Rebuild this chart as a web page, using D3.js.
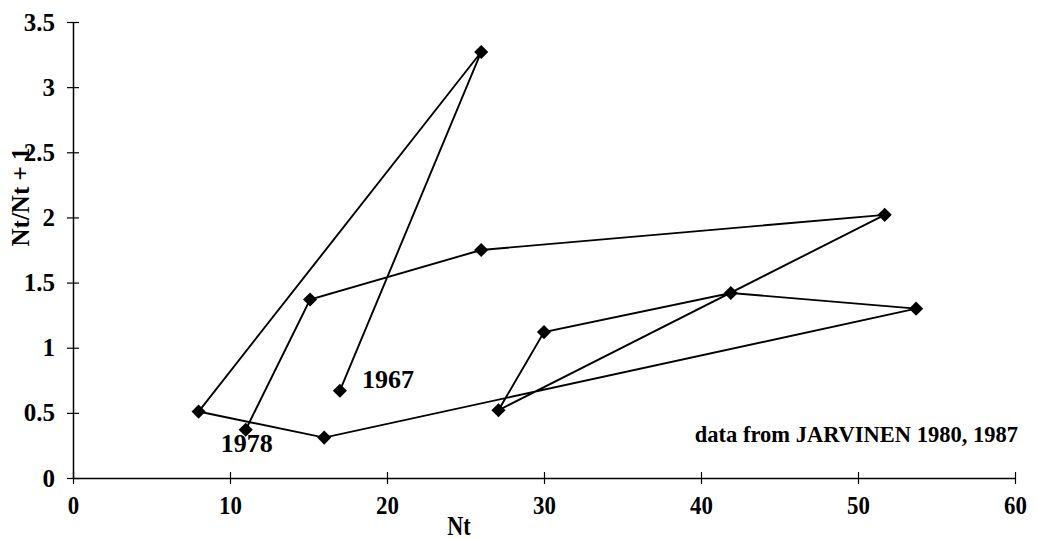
<!DOCTYPE html>
<html><head><meta charset="utf-8">
<script src="https://cdn.jsdelivr.net/npm/d3@7"></script>
<style>body{margin:0;background:#fff}svg{display:block}text{font-family:"Liberation Serif","Times New Roman",serif;font-weight:bold;fill:#000}</style>
</head><body><svg id="c" width="1038" height="539"></svg>
<script>
const years = [1967,1968,1969,1970,1971,1972,1973,1974,1975,1976,1977,1978];
const nt = [17, 26, 8, 16, 53.7, 41.9, 30, 27.1, 51.7, 26, 15.1, 11];
const ratio = [0.67, 3.27, 0.51, 0.31, 1.30, 1.42, 1.12, 0.52, 2.02, 1.75, 1.37, 0.37];
const xTicks = [0,10,20,30,40,50,60];
const yTicks = [0,0.5,1,1.5,2,2.5,3,3.5];
const xTitle = "Nt", yTitle = "Nt/Nt + 1";
const note = "data from JARVINEN 1980, 1987";

const svg = d3.select("#c");
const x = d3.scaleLinear().domain([0,60]).range([73,1015]);
const y = d3.scaleLinear().domain([0,3.5]).range([478,22]);

// axes
const xa = svg.append("g").attr("transform",`translate(0,${y(0)})`)
  .call(d3.axisBottom(x).tickValues(xTicks).tickSizeInner(6).tickSizeOuter(0).tickFormat(d3.format("d")));
xa.selectAll(".tick line").attr("y1",-6).attr("y2",6);
xa.selectAll("text").attr("y",36).attr("dy",null).attr("transform","scale(0.88,1)")
  .style("font-size","26px").attr("font-family",null);
const ya = svg.append("g").attr("transform",`translate(${x(0)},0)`)
  .call(d3.axisLeft(y).tickValues(yTicks).tickSizeInner(6).tickSizeOuter(0).tickFormat(d=>String(d)));
ya.selectAll(".tick line").attr("x1",-6).attr("x2",6);
ya.selectAll("text").attr("x",-18).style("font-size","25px").attr("font-family",null);
svg.selectAll(".domain").attr("stroke","#000").attr("stroke-width",1.5);
svg.selectAll(".tick line").attr("stroke","#000").attr("stroke-width",1.2);

// line
const pts = nt.map((v,i)=>[v,ratio[i]]);
svg.append("path").datum(pts)
  .attr("d", d3.line().x(d=>x(d[0])).y(d=>y(d[1])))
  .attr("fill","none").attr("stroke","#000").attr("stroke-width",1.9);
svg.append("g").selectAll("path").data(pts).join("path")
  .attr("transform", d=>`translate(${x(d[0])},${y(d[1])}) rotate(45)`)
  .attr("d", d3.symbol(d3.symbolSquare, 100))
  .attr("fill","#000");

// year labels
svg.append("text").attr("x", x(nt[0])+22).attr("y", y(ratio[0])-3).style("font-size","26px").text(years[0]);
svg.append("text").attr("x", x(nt[11])-25).attr("y", y(ratio[11])+22).style("font-size","26px").text(years[11]);

// titles
svg.append("text").attr("transform","translate(459,535) scale(0.82,1)").attr("text-anchor","middle").style("font-size","27px").text(xTitle);
svg.append("text").attr("transform","translate(29,197) rotate(-90)").attr("text-anchor","middle").style("font-size","25px").text(yTitle);
svg.append("text").attr("x",1018).attr("y",442).attr("text-anchor","end").style("font-size","22.5px").text(note);
</script></body></html>
